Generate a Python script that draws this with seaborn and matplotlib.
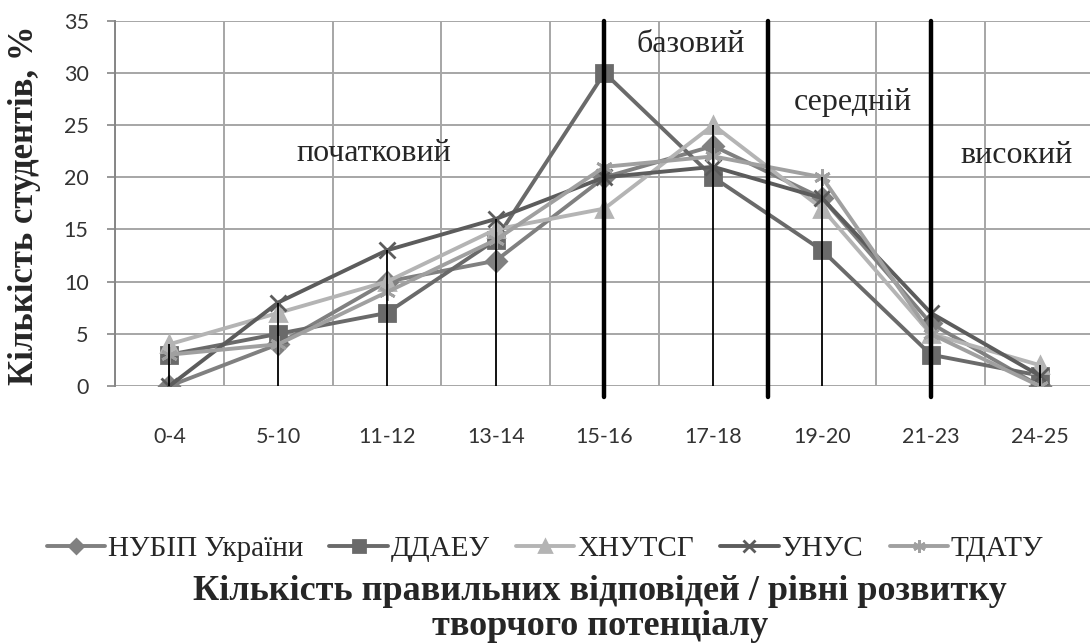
import numpy as np
import pandas as pd
import matplotlib
matplotlib.use("Agg")
import matplotlib.pyplot as plt
import seaborn as sns

# Дані: кількість правильних відповідей та частка студентів, %
categories = ["0-4", "5-10", "11-12", "13-14", "15-16", "17-18", "19-20", "21-23", "24-25"]
nubip = [0, 4, 10, 12, 20, 23, 18, 6, 0]
ddaeu = [3, 5, 7, 14, 30, 20, 13, 3, 1]
khnutsg = [4, 7, 10, 15, 17, 25, 17, 5, 2]
unus = [0, 8, 13, 16, 20, 21, 18, 7, 1]
tdatu = [3, 4, 9, 14, 21, 22, 20, 5, 0]

series_names = ["НУБІП України", "ДДАЕУ", "ХНУТСГ", "УНУС", "ТДАТУ"]
series_values = [nubip, ddaeu, khnutsg, unus, tdatu]

# межі рівнів (позиції між категоріями) та підписи рівнів
level_bounds = [4, 5.5, 7]
level_names = ["початковий", "базовий", "середній", "високий"]
level_pos = [(1.88, 22.3), (4.79, 32.7), (6.28, 27.2), (7.79, 22.1)]

colors = ["#808080", "#6a6a6a", "#b4b4b4", "#5c5c5c", "#a0a0a0"]
markers = ["D", "s", "^", "x", (6, 2, 0)]
msizes = [10, 11, 11, 11, 12]

sns.set_style("white")
plt.rcParams["font.serif"] = ["Liberation Serif", "DejaVu Serif"]
plt.rcParams["font.family"] = ["serif"]

fig = plt.figure(figsize=(10.9, 6.43), dpi=100)
ax = fig.add_axes([115 / 1090, (643 - 386) / 643, (1094 - 115) / 1090, (386 - 20.7) / 643])

x_idx = np.arange(len(categories))
# кожна серія окремо (seaborn не дозволяє змішувати заповнені й лінійні маркери)
for name, vals, c, m, ms in zip(series_names, series_values, colors, markers, msizes):
    sns.lineplot(x=x_idx, y=vals, color=c, marker=m, markersize=ms, linewidth=2.8,
                 markeredgecolor=c, markeredgewidth=2, label=name, ax=ax, zorder=3)

# тонкі вертикальні лінії від максимуму до осі
tops = np.max(np.array(series_values), axis=0)
ax.vlines(x_idx, 0, tops, color="black", lw=1.3, zorder=5)

# межі рівнів
for b in level_bounds:
    ax.plot([b, b], [-1.1, 35], color="black", lw=3.2, zorder=6, clip_on=False)

for name, (px, py) in zip(level_names, level_pos):
    ax.text(px, py, name, fontsize=23, ha="center", va="center", zorder=7)

ax.set_xlim(-0.5, len(categories) - 0.5)
ax.set_ylim(0, 35)
ax.set_yticks(np.arange(0, 36, 5))
ax.set_xticks(x_idx)
ax.set_xticks(np.arange(-0.5, len(categories), 0.5), minor=True)
ax.set_xticklabels(categories)
ax.grid(True, which="major", axis="y", color="#a6a6a6", lw=1.4)
ax.grid(True, which="minor", axis="x", color="#a6a6a6", lw=1.4)
ax.set_axisbelow(True)

for s in ["top", "right", "bottom"]:
    ax.spines[s].set_visible(False)
ax.spines["left"].set_color("#868686")
ax.spines["left"].set_linewidth(1.4)

ax.tick_params(axis="y", which="major", left=True, length=6, width=1.2, color="#868686",
               pad=13, labelsize=15.5, labelcolor="#333333")
ax.tick_params(axis="x", which="both", bottom=False, pad=26, labelsize=15.5, labelcolor="#333333")
for lab in ax.get_xticklabels() + ax.get_yticklabels():
    lab.set_family(["Lato", "DejaVu Sans"])

ax.set_xlabel("")
ax.set_ylabel("")

fig.text(25 / 1090, 1 - 205 / 643, "Кількість студентів, %", rotation=90,
         ha="center", va="center", fontsize=25, fontweight="bold")
fig.text(600 / 1090, 1 - 609 / 643,
         "Кількість правильних відповідей / рівні розвитку\nтворчого потенціалу",
         ha="center", va="center", fontsize=26, fontweight="bold", linespacing=1.1)

handles, labels = ax.get_legend_handles_labels()
if ax.legend_ is not None:
    ax.legend_.remove()
leg = fig.legend(handles, labels, ncol=5, loc="center", bbox_to_anchor=(0.5, 1 - 549 / 643),
                 frameon=False, fontsize=21, handlelength=2.0, handletextpad=0.1,
                 columnspacing=0.9, markerscale=0.75)
for t in leg.get_texts():
    t.set_family("serif")

fig.savefig("out.png", dpi=100)
